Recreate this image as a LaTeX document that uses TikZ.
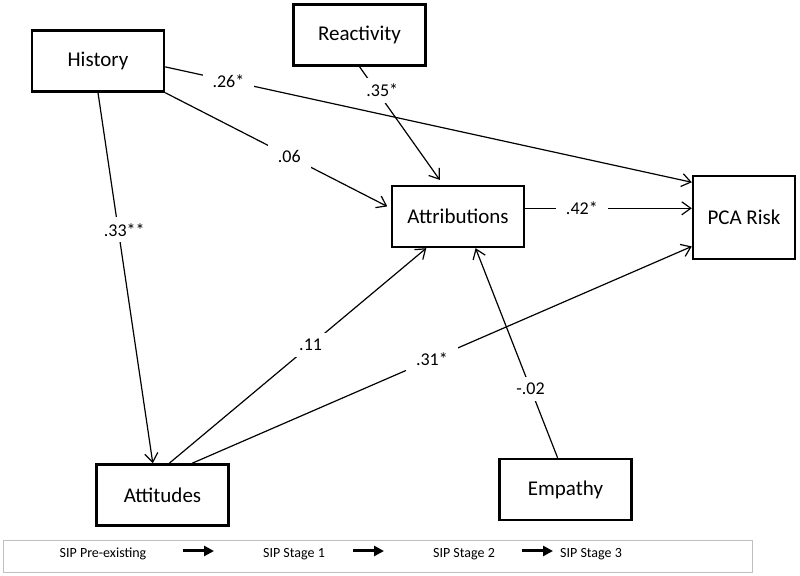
\documentclass[tikz,border=0pt]{standalone}
\usepackage{fontspec}
\setmainfont{Carlito}
\usetikzlibrary{arrows.meta}

\begin{document}
\begin{tikzpicture}[x=0.5pt, y=-0.5pt,
            box/.style={draw, line width=1.2pt, minimum width=66pt, minimum height=30.5pt, inner sep=0pt, font=\fontsize{10.5}{12}\selectfont},
            conn/.style={-{Straight Barb[length=4.5pt,width=6.5pt]}, line width=0.6pt},
            lbl/.style={fill=white, inner xsep=5pt, inner ysep=3pt, font=\fontsize{9}{10}\selectfont},
            leg/.style={inner sep=0pt, font=\fontsize{7}{8}\selectfont},
            legarrow/.style={-{Triangle[length=5pt,width=5pt]}, line width=1.5pt}]
            \useasboundingbox (0,0) rectangle (800,576);

            \node (Hist) [box] at (98,61) {History};
            \node (React) [box] at (359.5,35) {Reactivity};
            \node (Attr) [box] at (458,216.5) {Attributions};
            \node (PCA) [box, minimum width=51pt, minimum height=41.5pt] at (744,217.5) {PCA Risk};
            \node (Att) [box] at (162.5,495) {Attitudes};
            \node (Emp) [box] at (565.5,489.5) {Empathy};

            \draw[conn] (Hist.-5) -- (PCA.146) node[lbl, pos=0.12] {.26*};
            \draw[conn, shorten >=2pt] (Hist.south east) -- (Attr.173) node[lbl, pos=0.55] {.06};
            \draw[conn, shorten >=3pt] (React.south) -- (Attr.115) node[lbl, pos=0.2, xshift=3pt] {.35*};
            \draw[conn] (Attr.east |- PCA.170) -- (PCA.170) node[lbl, pos=0.34] {.42*};
            \draw[conn] (Hist.south) -- (Att.107) node[lbl, pos=0.37, xshift=3pt] {.33**};
            \draw[conn] (Att.78) -- (Attr.225) node[lbl, pos=0.55] {.11};
            \draw[conn] (Att.47) -- (PCA.209) node[lbl, pos=0.48] {.31*};
            \draw[conn] (Emp.104) -- (Attr.299) node[lbl, pos=0.33] {-.02};

            \node (legend) [draw=black!25, line width=0.5pt, minimum width=374.5pt, minimum height=16pt, inner sep=0pt] at (377.5,557) {};
            \node (Pre) [leg] at (103,554) {SIP Pre-existing};
            \node (S1) [leg] at (294,554) {SIP Stage 1};
            \node (S2) [leg] at (464,554) {SIP Stage 2};
            \node (S3) [leg] at (591,554) {SIP Stage 3};
            \coordinate (a1) at (183,551);
            \coordinate (b1) at (214,551);
            \coordinate (a2) at (353,551);
            \coordinate (b2) at (384,551);
            \coordinate (a3) at (522,551);
            \coordinate (b3) at (553,551);
            \draw[legarrow] (a1) -- (b1);
            \draw[legarrow] (a2) -- (b2);
            \draw[legarrow] (a3) -- (b3);
        \end{tikzpicture}
\end{document}
